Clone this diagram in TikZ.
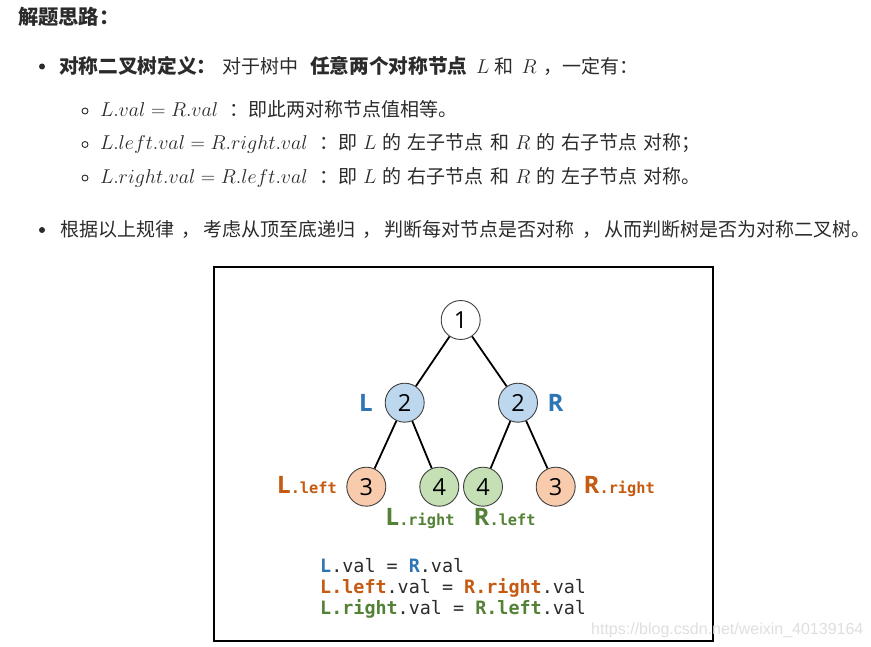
\documentclass[tikz,border=0pt]{standalone}
\usepackage{fix-cm}
\usepackage{fontspec}
\newfontfamily\cjk{Noto Sans CJK SC}
\newfontfamily\monof{DejaVu Sans Mono}
\newfontfamily\lblf{Open Sans}
\newfontfamily\wmf{Liberation Sans}
\newcommand\fs[1]{\fontsize{#1}{#1}\selectfont}
\newcommand\gp{\hspace{6.2pt}}
\newcommand\cm{\hspace{7.5pt}，\hspace{3pt}}
\definecolor{textc}{HTML}{2B2B2B}
\definecolor{lblue}{HTML}{2E75B6}
\definecolor{lorange}{HTML}{C55A11}
\definecolor{lgreen}{HTML}{538135}
\definecolor{fblue}{HTML}{BDD7EE}
\definecolor{forange}{HTML}{F8CBAD}
\definecolor{fgreen}{HTML}{C5E0B4}
\definecolor{wmc}{HTML}{DCDCDC}
\begin{document}
\begin{tikzpicture}[x=1pt,y=-1pt,
  txt/.style={anchor=base west, inner sep=0pt, outer sep=0pt, text=textc},
  cjkr/.style={txt, font=\cjk\fs{19}},
  cjkb/.style={txt, font=\cjk\bfseries\fs{19.7}},
  mth/.style={txt, font=\fs{20}},
  dotb/.style={circle, fill=textc, inner sep=0pt, minimum size=6pt},
  dotc/.style={circle, draw=textc, line width=0.9pt, inner sep=0pt, minimum size=6pt},
  tnode/.style={circle, draw=black!75, line width=0.9pt, minimum size=39pt, inner sep=0pt, font=\lblf\fs{23.5}},
  edge/.style={line width=1.8pt, black},
  lbl/.style={anchor=base west, inner sep=0pt, font=\lblf\bfseries\fs{24}},
  eqn/.style={anchor=base west, inner sep=0pt, font=\monof\fs{18.4}, text=textc}
]
\useasboundingbox (0,0) rectangle (871,647);
\fill[white] (0,0) rectangle (871,647);

% ---- text part ----
\node[cjkb, font=\cjk\bfseries\fs{20.3}] (title) at (18,25) {解题思路：};

\node[dotb] (d1) at (42,66.5) {};
\node[cjkb] (a1) at (59,73.5) {对称二叉树定义：};
\node[cjkr] (a2) at (222.7,73.5) {对于树中};
\node[cjkb] (a3) at (310,73.5) {任意两个对称节点};
\node[mth] (a4) at (476,73.5) {$L$};
\node[cjkr] (a5) at (494,73.5) {和};
\node[mth] (a6) at (521.5,73.5) {$R$};
\node[cjkr] (a7) at (543,73.5) {，一定有：};

\node[dotc] (c1) at (85,111) {};
\node[mth] (s1m) at (100,116.5) {$L.val = R.val$};
\node[cjkr] (s1t) at (229,116.5) {：即此两对称节点值相等。};

\node[dotc] (c2) at (85,144.5) {};
\node[mth] (s2m) at (100,150) {$L.left.val = R.right.val$};
\node[cjkr] (s2t) at (319,150) {：即\gp{\fs{20}$L$}\gp 的\gp 左子节点\gp 和\gp{\fs{20}$R$}\gp 的\gp 右子节点\gp 对称；};

\node[dotc] (c3) at (85,178) {};
\node[mth] (s3m) at (100,183.5) {$L.right.val = R.left.val$};
\node[cjkr] (s3t) at (319,183.5) {：即\gp{\fs{20}$L$}\gp 的\gp 右子节点\gp 和\gp{\fs{20}$R$}\gp 的\gp 左子节点\gp 对称。};

\node[dotb] (d2) at (42,230) {};
\node[cjkr] (b1) at (60,237) {根据以上规律\cm 考虑从顶至底递归\cm 判断每对节点是否对称\cm 从而判断树是否为对称二叉树。};

% ---- figure ----
\draw[line width=1.3pt, black] (214,267) rectangle (713,641);

\node[tnode, fill=white]   (n1)  at (460.7,320) {1};
\node[tnode, fill=fblue]   (l2)  at (404.7,402.7) {2};
\node[tnode, fill=fblue]   (r2)  at (518,402.7) {2};
\node[tnode, fill=forange] (ll3) at (366.3,486.7) {3};
\node[tnode, fill=fgreen]  (lr4) at (439.3,486.7) {4};
\node[tnode, fill=fgreen]  (rl4) at (483,486.7) {4};
\node[tnode, fill=forange] (rr3) at (555.7,486.7) {3};

\draw[edge] (n1) -- (l2);
\draw[edge] (n1) -- (r2);
\draw[edge] (l2) -- (ll3);
\draw[edge] (l2) -- (lr4);
\draw[edge] (r2) -- (rl4);
\draw[edge] (r2) -- (rr3);

\node[lbl, text=lblue] (labL) at (359,411.7) {L};
\node[lbl, text=lblue] (labR) at (547.5,411.7) {R};
\node[lbl, text=lorange] (labLL) at (277,493.3) {L{\monof\fs{15.3}.left}};
\node[lbl, text=lorange] (labRR) at (583.5,493.3) {R{\monof\fs{15.3}.right}};
\node[lbl, text=lgreen] (labLR) at (385.5,525.5) {L{\monof\fs{15.3}.right}};
\node[lbl, text=lgreen] (labRL) at (473.5,525.5) {R{\monof\fs{15.3}.left}};

\node[eqn] (e1) at (320,572) {\textcolor{lblue}{\bfseries L}.val = \textcolor{lblue}{\bfseries R}.val};
\node[eqn] (e2) at (320,593.5) {\textcolor{lorange}{\bfseries L.left}.val = \textcolor{lorange}{\bfseries R.right}.val};
\node[eqn] (e3) at (320,614.5) {\textcolor{lgreen}{\bfseries L.right}.val = \textcolor{lgreen}{\bfseries R.left}.val};

\node[anchor=base west, inner sep=0pt, font=\wmf\fs{16}, text=wmc, opacity=0.9] (wm) at (591,634) {https://blog.csdn.net/weixin\_40139164};
\end{tikzpicture}
\end{document}
